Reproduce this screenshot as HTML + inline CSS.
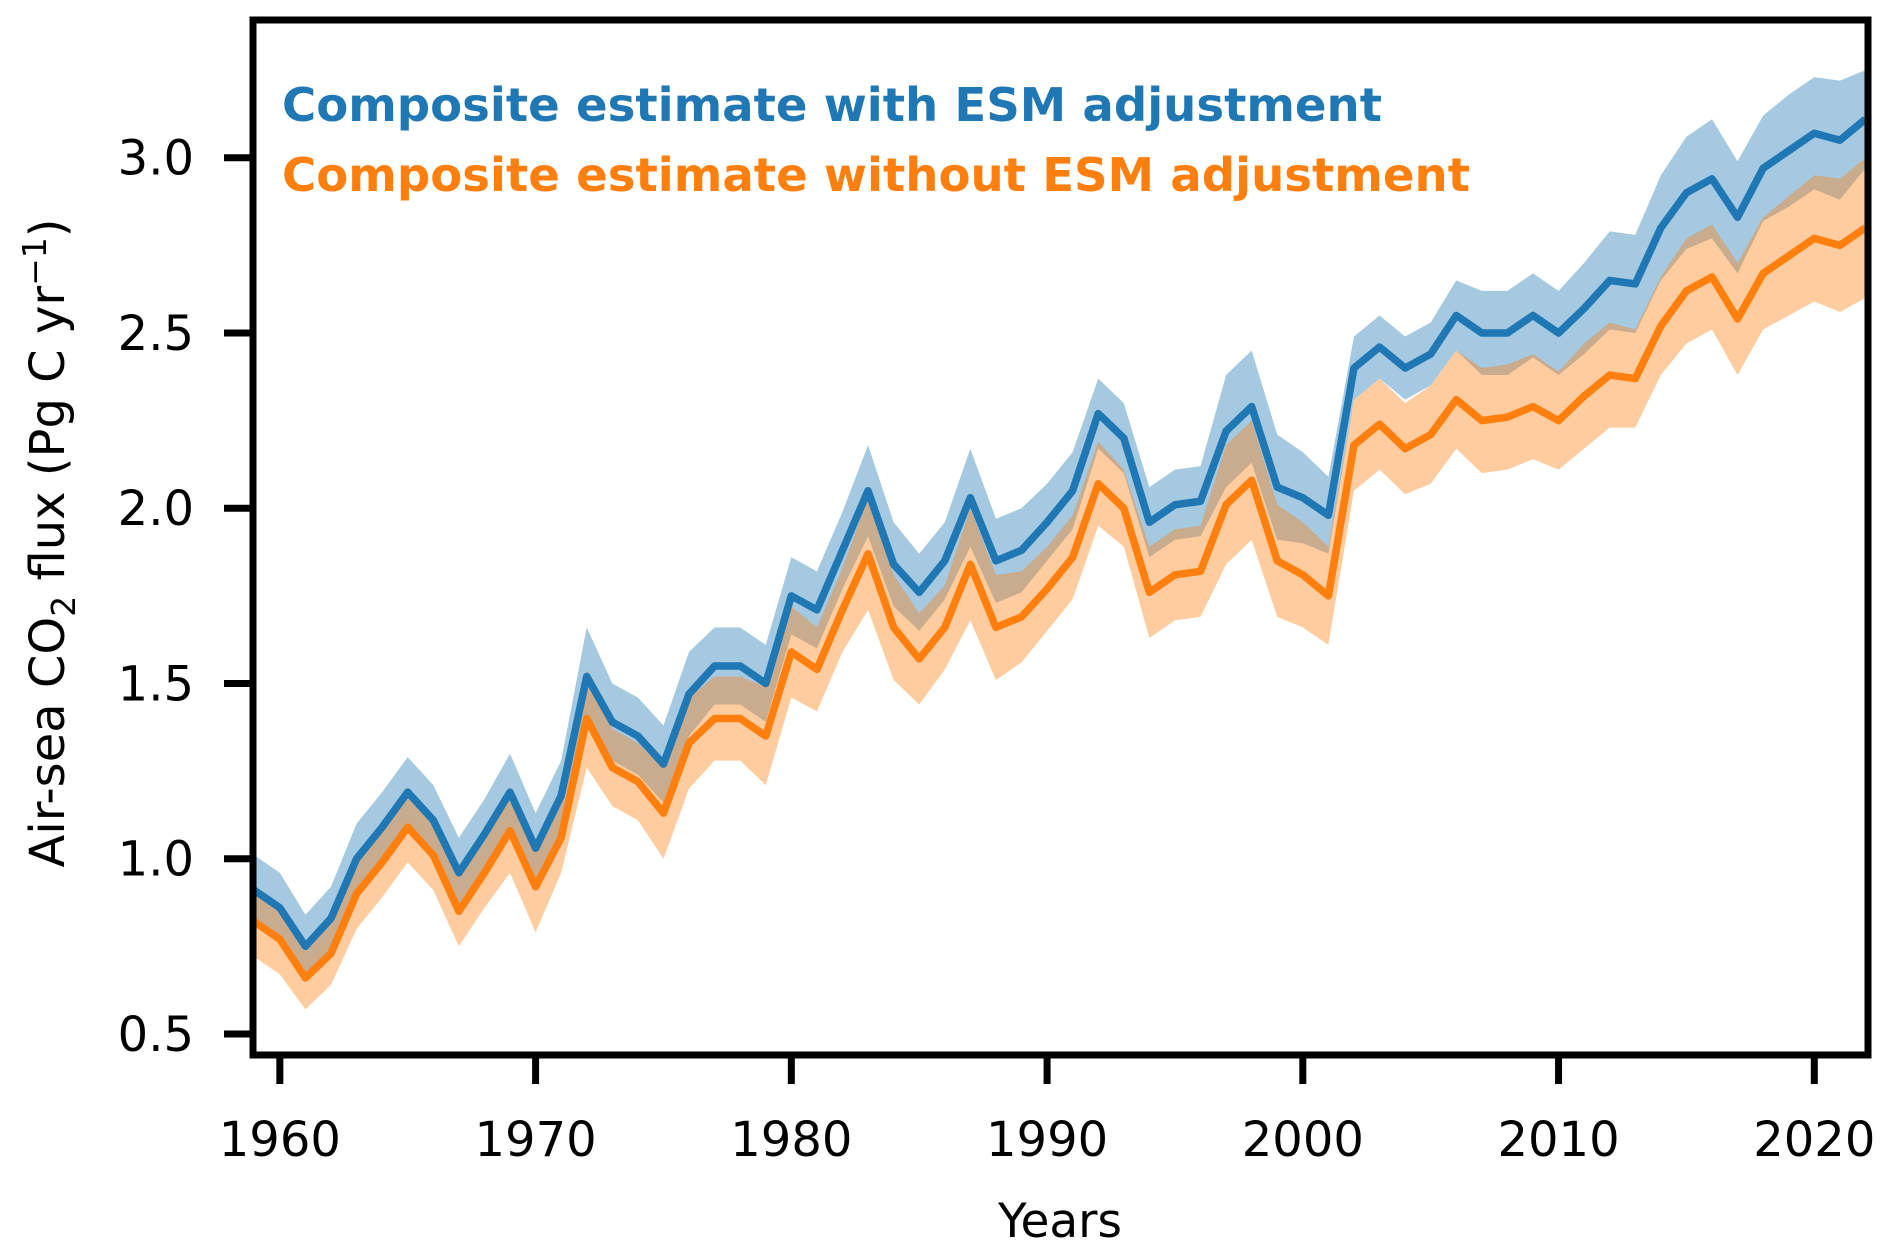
<!DOCTYPE html>
<html><head><meta charset="utf-8"><style>
html,body{margin:0;padding:0;background:#fff;}
svg{display:block;font-family:"DejaVu Sans","Liberation Sans",sans-serif;}
</style></head><body>
<svg id="chart" width="1892" height="1256" viewBox="0 0 1892 1256">
<g id="bands"></g>
<g id="lines"></g>
<g id="axes"></g>
<text x="282" y="121" font-size="46" font-weight="bold" fill="#1f77b4" textLength="1100" lengthAdjust="spacingAndGlyphs">Composite estimate with ESM adjustment</text>
<text x="282" y="191" font-size="46" font-weight="bold" fill="#ff7f0e" textLength="1188" lengthAdjust="spacingAndGlyphs">Composite estimate without ESM adjustment</text>
<text x="1060" y="1237" font-size="47" text-anchor="middle">Years</text>
<text transform="translate(64,543) rotate(-90)" font-size="48" text-anchor="middle">Air-sea CO<tspan font-size="33" dy="11">2</tspan><tspan dy="-11"> flux (Pg C yr</tspan><tspan font-size="33" dy="-18">−1</tspan><tspan dy="18">)</tspan></text>
</svg>
<script>
const years = [];
for (let y = 1959; y <= 2022; y++) years.push(y);
const blueVals = [0.91,0.86,0.75,0.83,1.00,1.09,1.19,1.11,0.96,1.07,1.19,1.03,1.18,1.52,1.39,1.35,1.27,1.47,1.55,1.55,1.50,1.75,1.71,1.88,2.05,1.84,1.76,1.85,2.03,1.85,1.88,1.96,2.05,2.27,2.20,1.96,2.01,2.02,2.22,2.29,2.06,2.03,1.98,2.40,2.46,2.40,2.44,2.55,2.50,2.50,2.55,2.50,2.57,2.65,2.64,2.80,2.90,2.94,2.83,2.97,3.02,3.07,3.05,3.11];
const orangeVals = [0.82,0.77,0.66,0.73,0.90,0.99,1.09,1.01,0.85,0.96,1.08,0.92,1.06,1.40,1.26,1.22,1.13,1.33,1.40,1.40,1.35,1.59,1.54,1.71,1.87,1.66,1.57,1.66,1.84,1.66,1.69,1.77,1.86,2.07,2.00,1.76,1.81,1.82,2.01,2.08,1.85,1.81,1.75,2.18,2.24,2.17,2.21,2.31,2.25,2.26,2.29,2.25,2.32,2.38,2.37,2.52,2.62,2.66,2.54,2.67,2.72,2.77,2.75,2.80];
const blueSpread = [0.1,0.1,0.09,0.09,0.1,0.1,0.1,0.1,0.1,0.1,0.11,0.1,0.1,0.14,0.11,0.11,0.11,0.12,0.11,0.11,0.11,0.11,0.11,0.11,0.13,0.12,0.11,0.11,0.14,0.12,0.12,0.11,0.11,0.1,0.1,0.1,0.1,0.1,0.16,0.16,0.15,0.13,0.11,0.09,0.09,0.09,0.09,0.1,0.12,0.12,0.12,0.12,0.13,0.14,0.14,0.15,0.16,0.17,0.16,0.15,0.16,0.16,0.17,0.14];
const orangeSpread = [0.1,0.1,0.09,0.09,0.1,0.1,0.1,0.1,0.1,0.1,0.12,0.13,0.1,0.14,0.11,0.11,0.13,0.13,0.12,0.12,0.14,0.13,0.12,0.12,0.16,0.15,0.13,0.12,0.16,0.15,0.13,0.12,0.12,0.12,0.11,0.13,0.13,0.13,0.17,0.17,0.16,0.15,0.14,0.13,0.13,0.13,0.14,0.14,0.15,0.15,0.15,0.14,0.15,0.15,0.14,0.14,0.15,0.15,0.16,0.16,0.17,0.18,0.19,0.2];
const xTicks = [1960,1970,1980,1990,2000,2010,2020];
const yTicks = [0.5,1.0,1.5,2.0,2.5,3.0];
const yTickLabels = ["0.5","1.0","1.5","2.0","2.5","3.0"];

const L = 253, R = 1868, T = 20, B = 1055;
const X0 = 1958.95, X1 = 2022.1, Y0 = 0.44, Y1 = 3.393;
function xs(v){ return L + (v - X0) / (X1 - X0) * (R - L); }
function ys(v){ return B - (v - Y0) / (Y1 - Y0) * (B - T); }
const NS = "http://www.w3.org/2000/svg";
function mk(tag, parent){ const e = document.createElementNS(NS, tag); parent.appendChild(e); return e; }

const bands = document.getElementById('bands');
const lines = document.getElementById('lines');
const axes = document.getElementById('axes');

function band(vals, spread, color, name){
  let up = vals.map((v,i)=>xs(years[i])+','+ys(v+spread[i]));
  let dn = vals.map((v,i)=>xs(years[i])+','+ys(v-spread[i])).reverse();
  const p = mk('polygon', bands);
  p.setAttribute('points', up.concat(dn).join(' '));
  p.setAttribute('fill', color);
  p.setAttribute('fill-opacity', '0.4');
  
  
}
band(blueVals, blueSpread, '#1f77b4', 'band-with-esm');
band(orangeVals, orangeSpread, '#ff7f0e', 'band-without-esm');

function line(vals, color, name){
  const p = mk('polyline', lines);
  p.setAttribute('points', vals.map((v,i)=>xs(years[i])+','+ys(v)).join(' '));
  p.setAttribute('fill', 'none');
  p.setAttribute('stroke', color);
  p.setAttribute('stroke-width', '7.5');
  p.setAttribute('stroke-linejoin', 'round');
  
  
}
line(blueVals, '#1f77b4', 'line-with-esm');
line(orangeVals, '#ff7f0e', 'line-without-esm');

const frame = mk('rect', axes);
frame.setAttribute('x', L); frame.setAttribute('y', T);
frame.setAttribute('width', R - L); frame.setAttribute('height', B - T);
frame.setAttribute('fill', 'none'); frame.setAttribute('stroke', '#000'); frame.setAttribute('stroke-width', '7');



xTicks.forEach(t=>{
  const x = xs(t);
  const l = mk('line', axes);
  l.setAttribute('x1', x); l.setAttribute('x2', x); l.setAttribute('y1', B); l.setAttribute('y2', B + 29);
  l.setAttribute('stroke', '#000'); l.setAttribute('stroke-width', '7');
  
  
  const tx = mk('text', axes);
  tx.setAttribute('x', x); tx.setAttribute('y', 1156);
  tx.setAttribute('font-size', '48'); tx.setAttribute('text-anchor', 'middle');
  tx.textContent = t;
  
  
});
yTicks.forEach((t,i)=>{
  const y = ys(t);
  const l = mk('line', axes);
  l.setAttribute('x1', L - 29); l.setAttribute('x2', L); l.setAttribute('y1', y); l.setAttribute('y2', y);
  l.setAttribute('stroke', '#000'); l.setAttribute('stroke-width', '7');
  
  
  const tx = mk('text', axes);
  tx.setAttribute('x', 194); tx.setAttribute('y', y + 17);
  tx.setAttribute('font-size', '48'); tx.setAttribute('text-anchor', 'end');
  tx.textContent = yTickLabels[i];
  
  
});
</script>
</body></html>
